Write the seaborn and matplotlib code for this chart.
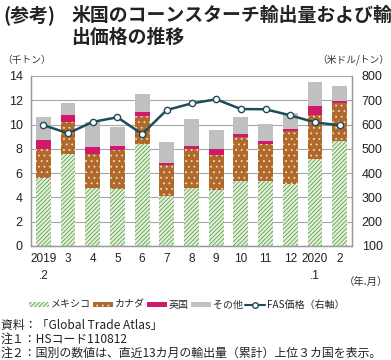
import matplotlib
matplotlib.use("Agg")
import matplotlib.pyplot as plt
import seaborn as sns
import numpy as np
import pandas as pd
from matplotlib.patches import Patch
from matplotlib.lines import Line2D

sns.set_theme(style="white")
plt.rcParams['font.family'] = ['Noto Sans CJK JP', 'DejaVu Sans']
plt.rcParams['hatch.linewidth'] = 0.6

months = ["2019\n.2", "3", "4", "5", "6", "7", "8", "9", "10", "11", "12", "2020\n.1", "2"]
mexico = [5.57, 7.55, 4.80, 4.67, 8.37, 4.15, 4.80, 4.58, 5.33, 5.33, 5.08, 7.14, 8.62]
canada = [2.39, 2.64, 2.75, 3.21, 2.33, 2.50, 3.16, 2.88, 3.62, 3.04, 4.37, 3.62, 3.13]
uk = [0.74, 0.57, 0.58, 0.33, 0.30, 0.16, 0.28, 0.50, 0.27, 0.28, 0.16, 0.74, 0.17]
other = [1.90, 0.99, 2.06, 1.57, 1.50, 1.76, 2.26, 1.57, 1.38, 1.37, 1.32, 1.98, 1.23]
fas_price = [598, 564, 611, 630, 561, 660, 687, 704, 664, 663, 638, 609, 597]

df = pd.DataFrame({"month": months, "mexico": mexico, "canada": canada, "uk": uk, "other": other})
df["c1"] = df["mexico"]
df["c2"] = df["c1"] + df["canada"]
df["c3"] = df["c2"] + df["uk"]
df["c4"] = df["c3"] + df["other"]

c_mex_face = "#E4F2DC"
c_mex_hatch = "#5E9E4E"
c_can = "#B0692A"
c_uk = "#D2186C"
c_oth = "#C0C0C0"
c_line = "#1E4D5A"
tick_font = ['Liberation Sans', 'DejaVu Sans']
mex_hatch = "////////"

fig = plt.figure(figsize=(3.91, 3.60), dpi=100)
ax = fig.add_axes([31/391, 1-246/360, (352-31)/391, (246-76)/360])

w = 0.6
sns.barplot(data=df, x="month", y="c4", color=c_oth, saturation=1, width=w, ax=ax, linewidth=0, zorder=2)
sns.barplot(data=df, x="month", y="c3", color=c_uk, saturation=1, width=w, ax=ax, linewidth=0, zorder=2)
sns.barplot(data=df, x="month", y="c2", color=c_can, saturation=1, width=w, ax=ax, linewidth=0, zorder=2,
            hatch="...", edgecolor="#F0DDBE")
sns.barplot(data=df, x="month", y="c1", color=c_mex_face, saturation=1, width=w, ax=ax, linewidth=0, zorder=2,
            hatch=mex_hatch, edgecolor=c_mex_hatch)

ax.set_ylim(0, 14)
ax.set_yticks(np.arange(0, 15, 2))
ax.set_xlim(-0.5, 12.5)
ax.set_xlabel("")
ax.set_ylabel("")
ax.yaxis.grid(True, color="#A6A6A6", linewidth=0.8, zorder=0)
ax.set_axisbelow(True)
ax.set_xticks(np.arange(13))
ax.set_xticklabels(months, fontsize=8.5, color="#222222", linespacing=1.6, family=tick_font)
ax.set_xticks(np.arange(-0.5, 13, 1), minor=True)
ax.tick_params(axis="x", which="major", length=0, pad=5)
ax.tick_params(axis="x", which="minor", direction="in", length=3, color="#888888", width=0.8)
ax.tick_params(axis="y", length=0, labelsize=9, labelcolor="#222222", pad=6)
for lab in ax.get_yticklabels():
    lab.set_family(tick_font)
for s in ["left", "right", "bottom"]:
    ax.spines[s].set_color("#999999")
    ax.spines[s].set_linewidth(0.9)
ax.spines["top"].set_visible(False)

ax2 = ax.twinx()
sns.lineplot(x=np.arange(13), y=fas_price, ax=ax2, color=c_line, linewidth=1.8,
             marker="o", markersize=4.5, markerfacecolor="white", markeredgecolor=c_line,
             markeredgewidth=1.0, zorder=5)
ax2.set_ylim(100, 800)
ax2.set_yticks(np.arange(100, 801, 100))
ax2.tick_params(axis="y", length=0, labelsize=9, labelcolor="#222222", pad=7)
for lab in ax2.get_yticklabels():
    lab.set_family(tick_font)
ax2.set_xlim(-0.5, 12.5)
for s in ["left", "right", "bottom"]:
    ax2.spines[s].set_color("#999999")
    ax2.spines[s].set_linewidth(0.9)
ax2.spines["top"].set_visible(False)

# Titles and units
fig.text(3/391, 1-15/360, "(参考)", fontsize=13.6, fontweight="bold", va="center", ha="left", color="#222222")
fig.text(71/391, 1-15/360, "米国のコーンスターチ輸出量および輸", fontsize=13.6, fontweight="bold",
         va="center", ha="left", color="#222222")
fig.text(71/391, 1-37/360, "出価格の推移", fontsize=13.6, fontweight="bold", va="center", ha="left", color="#222222")
fig.text(2/391, 1-60/360, "（千トン）", fontsize=7, va="center", ha="left", color="#333333")
fig.text(389/391, 1-60/360, "（米ドル/トン）", fontsize=7, va="center", ha="right", color="#333333")
fig.text(388/391, 1-282/360, "（年.月）", fontsize=7.5, va="center", ha="right", color="#333333")

handles = [
    Patch(facecolor=c_mex_face, edgecolor=c_mex_hatch, hatch=mex_hatch, linewidth=0),
    Patch(facecolor=c_can, edgecolor="#F0DDBE", hatch="...", linewidth=0),
    Patch(facecolor=c_uk, linewidth=0),
    Patch(facecolor=c_oth, linewidth=0),
    Line2D([0], [0], color=c_line, linewidth=1.5, marker="o", markersize=4,
           markerfacecolor="white", markeredgecolor=c_line),
]
labels = ["メキシコ", "カナダ", "英国", "その他", "FAS価格（右軸）"]
fig.legend(handles, labels, loc="center", bbox_to_anchor=(187/391, 1-305/360), ncol=5, frameon=False,
           fontsize=7.2, handlelength=2.0, handleheight=0.45, handletextpad=0.15, columnspacing=0.25,
           borderaxespad=0, borderpad=0)

notes = ["資料：「Global Trade Atlas」", "注１：HSコード110812",
         "注２：国別の数値は、直近13カ月の輸出量（累計）上位３カ国を表示。"]
for i, t in enumerate(notes):
    fig.text(1/391, 1-(325+14*i)/360, t, fontsize=8.6, va="center", ha="left", color="#222222")

fig.savefig("out.png", dpi=100)
